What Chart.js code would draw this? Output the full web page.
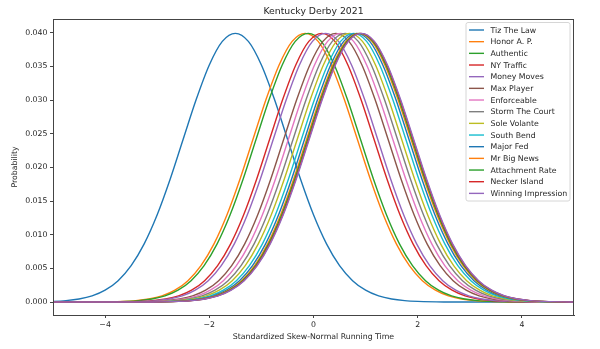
<!DOCTYPE html>
<html lang="en">
	<head>
		<meta charset="utf-8">
		<title>Kentucky Derby 2021</title>
		<style>
			html, body { margin: 0; padding: 0; background: #FFF; }
			#wrap { width: 600px; height: 349px; }
		</style>
		<script src="https://cdn.jsdelivr.net/npm/chart.js"></script>
	</head>
	<body>
		<div id="wrap"><canvas id="derby"></canvas></div>
		<script>
			// horses, in legend order
			const horses = ["Tiz The Law", "Honor A. P.", "Authentic", "NY Traffic", "Money Moves", "Max Player", "Enforceable", "Storm The Court", "Sole Volante", "South Bend", "Major Fed", "Mr Big News", "Attachment Rate", "Necker Island", "Winning Impression"];
			// where each curve peaks
			const peaks = [-1.50, -0.16, -0.10, 0.16, 0.23, 0.43, 0.52, 0.61, 0.69, 0.77, 0.83, 0.87, 0.89, 0.91, 0.92];
			// one bell shape: distance from the peak -> probability
			const profileX = [-6.5, -5.5, -4.5, -4, -3.5, -3.25, -3, -2.75, -2.5, -2.25, -2, -1.75, -1.5, -1.25, -1, -0.75, -0.5, -0.25, 0, 0.25, 0.5, 0.75, 1, 1.25, 1.5, 1.75, 2, 2.25, 2.5, 2.75, 3, 3.25, 3.5, 4, 4.5, 5.5, 6.5];
			const profileY = [0, 0, 0, 0.00001, 0.00009, 0.0002, 0.00044, 0.0009, 0.00175, 0.00317, 0.0054, 0.00863, 0.01295, 0.01826, 0.0242, 0.0301, 0.0352, 0.0387, 0.0399, 0.0387, 0.0352, 0.0301, 0.0242, 0.01826, 0.01295, 0.00863, 0.0054, 0.00317, 0.00175, 0.0009, 0.00044, 0.0002, 0.00009, 0.00001, 0, 0, 0];
			const xTicks = [-4, -2, 0, 2, 4];
			const yTicks = [0, 0.005, 0.010, 0.015, 0.020, 0.025, 0.030, 0.035, 0.040];
			const colors = ["#1f77b4", "#ff7f0e", "#2ca02c", "#d62728", "#9467bd", "#8c564b", "#e377c2", "#7f7f7f", "#bcbd22", "#17becf"];

			const font = "DejaVu Sans";
			const ink = "#262626";

			const datasets = horses.map((name, i) => ({
				label: name,
				data: profileX.map((d, k) => ({ x: peaks[i] + d, y: profileY[k] })),
				borderColor: colors[i % colors.length],
				backgroundColor: colors[i % colors.length],
				borderWidth: 1.4,
				pointRadius: 0,
				cubicInterpolationMode: "monotone",
				order: horses.length - i
			}));

			// title, axis labels, frame and the in-plot legend, drawn like matplotlib
			const decor = {
				id: "decor",
				afterDraw(chart) {
					const c = chart.ctx, a = chart.chartArea;
					c.save();
					c.strokeStyle = "#444";
					c.lineWidth = 1;
					c.strokeRect(a.left + 0.5, a.top + 0.5, a.right - a.left - 1, a.bottom - a.top);

					c.fillStyle = ink;
					c.textAlign = "center";
					c.textBaseline = "alphabetic";
					c.font = "9.3px '" + font + "'";
					c.fillText("Kentucky Derby 2021", (a.left + a.right) / 2, 14);
					c.font = "7.8px '" + font + "'";
					c.fillText("Standardized Skew-Normal Running Time", (a.left + a.right) / 2, 339);
					c.save();
					c.translate(17, (a.top + a.bottom) / 2);
					c.rotate(-Math.PI / 2);
					c.fillText("Probability", 0, 0);
					c.restore();

					// legend box
					const bx = 466, by = 22.5, bw = 104, bh = 178.5, r = 2;
					c.beginPath();
					c.moveTo(bx + r, by);
					c.arcTo(bx + bw, by, bx + bw, by + bh, r);
					c.arcTo(bx + bw, by + bh, bx, by + bh, r);
					c.arcTo(bx, by + bh, bx, by, r);
					c.arcTo(bx, by, bx + bw, by, r);
					c.closePath();
					c.fillStyle = "rgba(255,255,255,0.8)";
					c.fill();
					c.strokeStyle = "#d6d6d6";
					c.lineWidth = 1;
					c.stroke();

					c.textAlign = "left";
					c.textBaseline = "middle";
					c.font = "7.8px '" + font + "'";
					chart.data.datasets.forEach((ds, i) => {
						const y = 30 + i * 11.67;
						c.strokeStyle = ds.borderColor;
						c.lineWidth = 1.4;
						c.beginPath();
						c.moveTo(469, y);
						c.lineTo(484, y);
						c.stroke();
						c.fillStyle = ink;
						c.fillText(ds.label, 490.5, y + 0.5);
					});
					c.restore();
				}
			};

			new Chart(document.getElementById("derby"), {
				type: "line",
				data: { datasets: datasets },
				options: {
					responsive: true,
					maintainAspectRatio: false,
					animation: false,
					layout: { padding: { top: 19, right: 26, bottom: 0, left: 0 } },
					plugins: {
						legend: { display: false },
						title: { display: false },
						tooltip: { enabled: false }
					},
					scales: {
						x: {
							type: "linear",
							min: -5,
							max: 5,
							afterFit: s => { s.height = 34; },
							afterBuildTicks: s => { s.ticks = xTicks.map(v => ({ value: v })); },
							grid: { drawOnChartArea: false, drawTicks: true, tickLength: 3, color: "#444" },
							border: { display: true, color: "#444" },
							ticks: {
								padding: 2,
								color: ink,
								font: { family: font, size: 7.8 },
								maxRotation: 0,
								callback: v => v < 0 ? "\u2212" + Math.abs(v) : String(v)
							}
						},
						y: {
							min: -0.00193,
							max: 0.04203,
							afterFit: s => { s.width = 53; },
							afterBuildTicks: s => { s.ticks = yTicks.map(v => ({ value: v })); },
							grid: { drawOnChartArea: false, drawTicks: true, tickLength: 3, color: "#444" },
							border: { display: true, color: "#444" },
							ticks: {
								padding: 2.5,
								color: ink,
								font: { family: font, size: 7.8 },
								callback: v => v.toFixed(3)
							}
						}
					}
				},
				plugins: [decor]
			});
		</script>
	</body>
</html>
